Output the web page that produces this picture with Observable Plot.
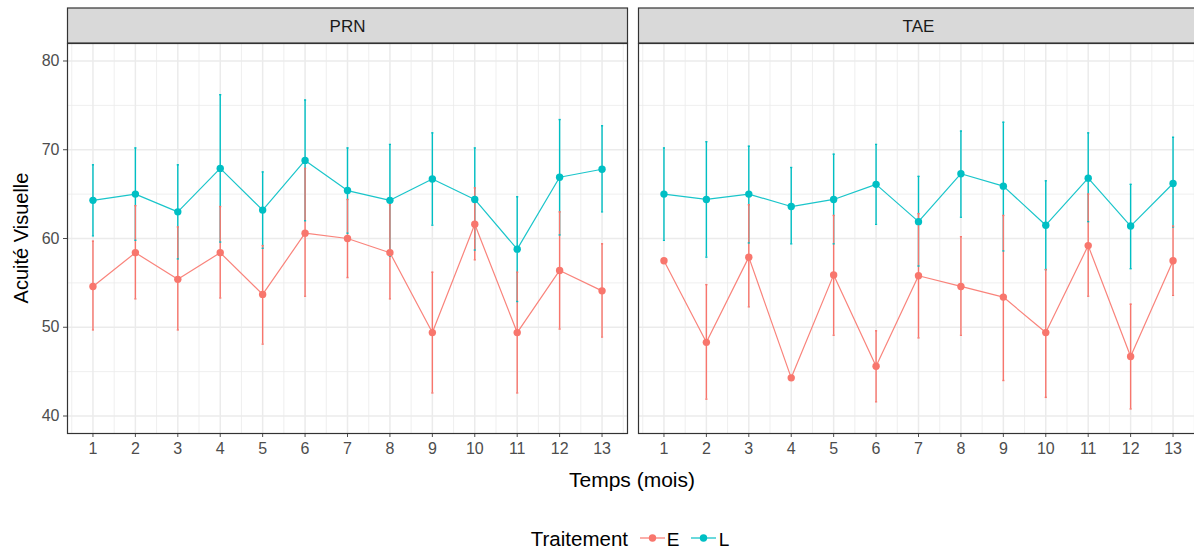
<!DOCTYPE html>
<html>
<head>
<meta charset="utf-8">
<script src="https://cdn.jsdelivr.net/npm/d3@7"></script>
<script src="https://cdn.jsdelivr.net/npm/@observablehq/plot@0.6"></script>
<style>
  html, body { margin: 0; padding: 0; background: #fff; overflow: hidden; }
  #wrap { position: relative; width: 1194px; height: 552px; overflow: hidden; }
</style>
</head>
<body>
<div id="wrap"></div>
<script>
// ---- data ----
const months = [1, 2, 3, 4, 5, 6, 7, 8, 9, 10, 11, 12, 13];
const sites = ["PRN", "TAE"];
const treatments = ["E", "L"];
const colors = ["#F8766D", "#00BFC4"];
const yTicks = [40, 50, 60, 70, 80];

// PRN – E
const prnE    = [54.6, 58.4, 55.4, 58.4, 53.7, 60.6, 60.0, 58.4, 49.4, 61.6, 49.4, 56.4, 54.1];
const prnE_lo = [49.7, 53.2, 49.7, 53.3, 48.1, 53.5, 55.6, 53.2, 42.6, 57.6, 42.6, 49.8, 48.9];
const prnE_hi = [59.7, 63.7, 61.3, 63.6, 59.2, 67.9, 64.4, 63.8, 56.2, 65.7, 56.2, 63.0, 59.4];
// PRN – L
const prnL    = [64.3, 65.0, 63.0, 67.9, 63.2, 68.8, 65.4, 64.3, 66.7, 64.4, 58.8, 66.9, 67.8];
const prnL_lo = [60.3, 59.8, 57.7, 59.6, 58.9, 62.0, 60.6, 58.0, 61.5, 58.7, 52.9, 60.4, 63.0];
const prnL_hi = [68.3, 70.2, 68.3, 76.2, 67.5, 75.6, 70.2, 70.6, 71.9, 70.2, 64.7, 73.4, 72.7];
// TAE – E
const taeE    = [57.5, 48.3, 57.9, 44.3, 55.9, 45.6, 55.8, 54.6, 53.4, 49.4, 59.2, 46.7, 57.5];
const taeE_lo = [null, 41.9, 52.3, null, 49.1, 41.6, 48.8, 49.1, 44.0, 42.1, 53.5, 40.8, 53.6];
const taeE_hi = [null, 54.8, 63.8, null, 62.6, 49.6, 62.8, 60.2, 62.6, 56.5, 65.0, 52.6, 61.4];
// TAE – L
const taeL    = [65.0, 64.4, 65.0, 63.6, 64.4, 66.1, 61.9, 67.3, 65.9, 61.5, 66.8, 61.4, 66.2];
const taeL_lo = [59.8, 57.9, 59.5, 59.4, 59.4, 61.6, 56.9, 62.4, 58.6, 56.5, 61.9, 56.6, 61.3];
const taeL_hi = [70.2, 70.9, 70.4, 68.0, 69.5, 70.6, 67.0, 72.1, 73.1, 66.5, 71.9, 66.1, 71.4];

// ---- build table ----
const series = [
  ["PRN", "E", prnE, prnE_lo, prnE_hi],
  ["PRN", "L", prnL, prnL_lo, prnL_hi],
  ["TAE", "E", taeE, taeE_lo, taeE_hi],
  ["TAE", "L", taeL, taeL_lo, taeL_hi]
];
const rows = [];
for (const [site, trt, m, lo, hi] of series) {
  months.forEach((t, i) => rows.push({site, trt, t, mean: m[i], lo: lo[i], hi: hi[i]}));
}
const bars = rows.filter(d => d.lo != null);
// L error bars drawn first, E on top (as in the reference)
const barsOrdered = [...bars.filter(d => d.trt === "L"), ...bars.filter(d => d.trt === "E")];
const minorX = d3.range(0.5, 14, 1);
const minorY = [45, 55, 65, 75];

const FONT = "'Liberation Sans', Arial, Helvetica, sans-serif";
const W = 1198, H = 552;

const chart = Plot.plot({
  width: W,
  height: H,
  marginLeft: 67,
  marginRight: 0,
  marginTop: 43,
  marginBottom: 119,
  style: {fontFamily: FONT, fontSize: "16px", color: "#4D4D4D", background: "white", maxWidth: "none", overflow: "hidden"},
  fx: {domain: sites, paddingInner: 0.0193, paddingOuter: 0, axis: null, label: null},
  x: {domain: [0.4, 13.6], ticks: months, tickFormat: d => String(d), label: null, tickSize: 4, tickPadding: 5},
  y: {domain: [38.03, 81.97], ticks: yTicks, label: null, tickSize: 4, tickPadding: 4},
  color: {domain: treatments, range: colors},
  marks: [
    Plot.gridX(minorX, {stroke: "#EBEBEB", strokeOpacity: 1, strokeWidth: 0.8}),
    Plot.gridY(minorY, {stroke: "#EBEBEB", strokeOpacity: 1, strokeWidth: 0.8}),
    Plot.gridX(months, {stroke: "#EBEBEB", strokeOpacity: 1, strokeWidth: 1.5}),
    Plot.gridY(yTicks, {stroke: "#EBEBEB", strokeOpacity: 1, strokeWidth: 1.5}),
    Plot.ruleX(barsOrdered, {x: "t", y1: "lo", y2: "hi", fx: "site", stroke: "trt", strokeWidth: 1.4}),
    Plot.link(barsOrdered, {x1: d => d.t - 0.025, x2: d => d.t + 0.025, y1: "lo", y2: "lo", fx: "site", stroke: "trt", strokeWidth: 1.4}),
    Plot.link(barsOrdered, {x1: d => d.t - 0.025, x2: d => d.t + 0.025, y1: "hi", y2: "hi", fx: "site", stroke: "trt", strokeWidth: 1.4}),
    Plot.line(rows, {x: "t", y: "mean", fx: "site", z: "trt", stroke: "trt", strokeWidth: 1.2, strokeOpacity: 0.9}),
    Plot.dot(rows, {x: "t", y: "mean", fx: "site", fill: "trt", r: 3.7}),
    Plot.frame({stroke: "#333333", strokeWidth: 1.2})
  ]
});

document.getElementById("wrap").appendChild(chart);

// ---- facet strips, axis titles and legend ----
const svg = d3.select(chart);
const wrapRect = chart.getBoundingClientRect();
const frames = Array.from(chart.querySelectorAll('[aria-label="frame"] rect, rect[aria-label="frame"]'));
const frameBoxes = frames.map(r => r.getBoundingClientRect()).sort((a, b) => a.left - b.left);
const stripTop = 8, stripBottom = 43;
const strips = svg.append("g").attr("aria-label", "strips");
frameBoxes.forEach((b, i) => {
  const x0 = b.left - wrapRect.left;
  strips.append("rect")
    .attr("x", x0).attr("y", stripTop)
    .attr("width", b.width).attr("height", stripBottom - stripTop)
    .attr("fill", "#D9D9D9").attr("stroke", "#333333").attr("stroke-width", 1.2);
  strips.append("text")
    .attr("x", x0 + b.width / 2).attr("y", 31.5)
    .attr("text-anchor", "middle")
    .attr("font-family", FONT).attr("font-size", 17).attr("fill", "#1A1A1A")
    .text(sites[i]);
});

// axis titles
svg.append("text")
  .attr("transform", "translate(28,238) rotate(-90)")
  .attr("text-anchor", "middle")
  .attr("font-family", FONT).attr("font-size", 20).attr("fill", "#000")
  .text("Acuité Visuelle");
svg.append("text")
  .attr("x", 632).attr("y", 487)
  .attr("text-anchor", "middle")
  .attr("font-family", FONT).attr("font-size", 21).attr("fill", "#000")
  .text("Temps (mois)");

// legend
const lg = svg.append("g").attr("aria-label", "legend");
lg.append("text")
  .attr("x", 628).attr("y", 545.5)
  .attr("text-anchor", "end")
  .attr("font-family", FONT).attr("font-size", 20.5).attr("fill", "#000")
  .text("Traitement");
const keyX = [640, 691];
treatments.forEach((t, i) => {
  const x = keyX[i];
  lg.append("line").attr("x1", x).attr("x2", x + 25).attr("y1", 538).attr("y2", 538)
    .attr("stroke", colors[i]).attr("stroke-width", 1.3).attr("stroke-opacity", 0.9);
  lg.append("circle").attr("cx", x + 12.5).attr("cy", 538).attr("r", 3.7).attr("fill", colors[i]);
  lg.append("text").attr("x", x + 33).attr("y", 545.5)
    .attr("font-family", FONT).attr("font-size", 19).attr("fill", "#000")
    .text(t);
});
</script>
</body>
</html>
